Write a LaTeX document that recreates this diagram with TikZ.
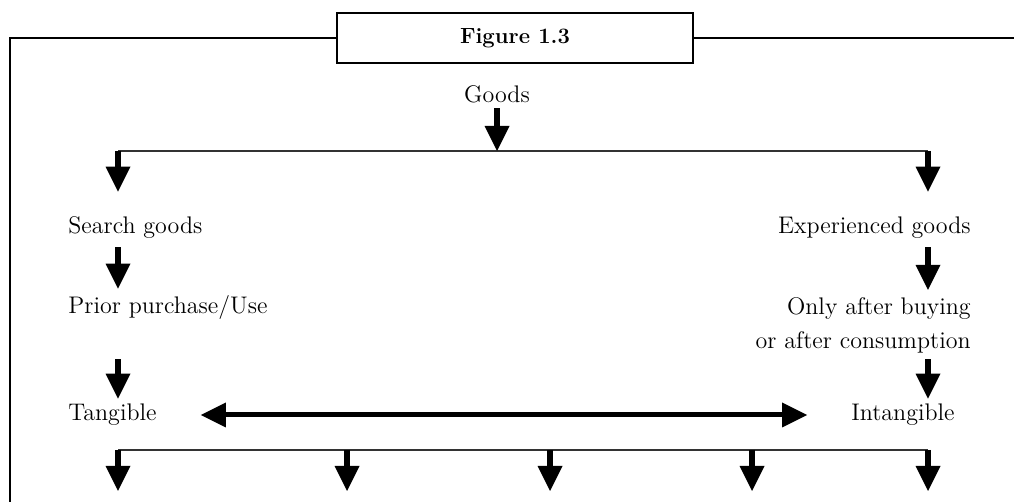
\documentclass[tikz,border=0pt]{standalone}
\usetikzlibrary{arrows.meta, calc}
\tikzset{
    every node/.style={font=\fontsize{12}{17}\selectfont},
    lbl/.style={inner sep=0pt, text height=8.5pt, text depth=2.5pt},
    bigarrow/.style={line width=3pt,
        -{Triangle[length=12.5pt, width=12.5pt, line width=0pt]}},
    bothways/.style={line width=2.5pt,
        {Triangle[length=12.5pt, width=12.5pt, line width=0pt]}-%
        {Triangle[length=12.5pt, width=12.5pt, line width=0pt]}},
    thinline/.style={line width=0.75pt, black!80},
    framebox/.style={draw, line width=1.2pt, minimum width=178pt,
        minimum height=25pt, font=\fontsize{11}{13}\selectfont\bfseries},
}

\begin{document}
\begin{tikzpicture}[x=0.5pt, y=-0.5pt]
        \useasboundingbox (0,0) rectangle (1014,502);
        \node[framebox] (title) at (515,38) {Figure 1.3}; % Title box
        \draw[line width=1.2pt] (title.west) -- (10,38) -- (10,502); % Left frame
        \draw[line width=1.2pt] (title.east) -- (1014,38); % Right frame
        \node[lbl] (goods) at (497,97) {Goods};
        \coordinate (topL) at (118,151);
        \coordinate (topR) at (928,151);
        \draw[thinline] (topL) -- (topR); % Upper bar
        \draw[bigarrow] (goods.south) -- (goods.south |- topL);
        \node[lbl, anchor=west] (search) at (68,228) {Search goods};
        \node[lbl, anchor=east] (exper) at (971,228) {Experienced goods};
        \node[lbl, anchor=west] (prior) at (68,308) {Prior purchase/Use};
        \node[inner sep=0pt, anchor=east, align=right] (only) at (971,325)
            {Only after buying\\or after consumption};
        \node[lbl, anchor=west] (tang) at (68,415) {Tangible};
        \node[lbl] (intang) at (903,415) {Intangible};
        \draw[bigarrow, shorten >=12.5pt] (topL) -- (search.north -| topL);
        \draw[bigarrow, shorten >=12.5pt] (topR) -- (exper.north -| topR);
        \draw[bigarrow, shorten <=4pt, shorten >=4pt]
            (search.south -| topL) -- (prior.north -| topL); % Left column
        \draw[bigarrow, shorten <=4pt, shorten >=3.5pt]
            (exper.south -| topR) -- (only.north -| topR); % Right column
        \draw[bigarrow, shorten <=3pt, shorten >=2.5pt]
            (only.south -| topL) -- (tang.north -| topL);
        \draw[bigarrow, shorten <=3pt, shorten >=2.5pt]
            (only.south -| topR) -- (intang.north -| topR);
        \draw[bothways, shorten <=22pt, shorten >=22pt]
            (tang.east) -- (intang.west); % Tangible <-> intangible
        \coordinate (botL) at (118,450);
        \coordinate (botR) at (928,450);
        \draw[thinline] (botL) -- (botR); % Lower bar
        \foreach \x [count=\i] in {118, 347, 550, 752, 928}{
            \coordinate (drop\i) at (\x,491);
            \draw[bigarrow] (drop\i |- botL) -- (drop\i); % Drop arrow
        }
    \end{tikzpicture}
\end{document}
